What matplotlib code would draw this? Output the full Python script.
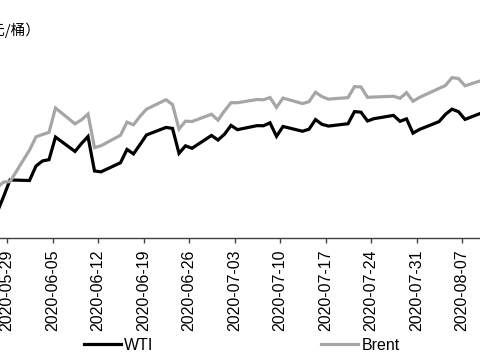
import matplotlib
matplotlib.use("Agg")
import matplotlib.pyplot as plt
import matplotlib.dates as mdates
import numpy as np
import pandas as pd

dates = ["2020-05-27", "2020-05-28", "2020-05-29",
         "2020-06-01", "2020-06-02", "2020-06-03", "2020-06-04", "2020-06-05",
         "2020-06-08", "2020-06-09", "2020-06-10", "2020-06-11", "2020-06-12",
         "2020-06-15", "2020-06-16", "2020-06-17", "2020-06-18", "2020-06-19",
         "2020-06-22", "2020-06-23", "2020-06-24", "2020-06-25", "2020-06-26",
         "2020-06-29", "2020-06-30", "2020-07-01", "2020-07-02", "2020-07-03",
         "2020-07-06", "2020-07-07", "2020-07-08", "2020-07-09", "2020-07-10",
         "2020-07-13", "2020-07-14", "2020-07-15", "2020-07-16", "2020-07-17",
         "2020-07-20", "2020-07-21", "2020-07-22", "2020-07-23", "2020-07-24",
         "2020-07-27", "2020-07-28", "2020-07-29", "2020-07-30", "2020-07-31",
         "2020-08-03", "2020-08-04", "2020-08-05", "2020-08-06", "2020-08-07",
         "2020-08-10"]

wti = [32.40, 33.90, 35.49,
       35.44, 36.81, 37.29, 37.41, 39.55,
       38.19, 38.94, 39.60, 36.34, 36.26,
       37.12, 38.38, 37.96, 38.84, 39.75,
       40.46, 40.37, 38.01, 38.72, 38.49,
       39.70, 39.27, 39.82, 40.65, 40.25,
       40.63, 40.62, 40.90, 39.62, 40.55,
       40.10, 40.29, 41.20, 40.75, 40.59,
       40.81, 41.96, 41.90, 41.07, 41.29,
       41.60, 41.04, 41.27, 39.92, 40.27,
       41.01, 41.70, 42.19, 41.95, 41.22,
       41.94]

brent = [34.74, 35.29, 35.33,
         38.32, 39.57, 39.79, 39.99, 42.30,
         40.80, 41.18, 41.73, 38.55, 38.73,
         39.72, 40.96, 40.71, 41.51, 42.19,
         43.08, 42.63, 40.31, 41.05, 41.02,
         41.71, 41.15, 42.03, 42.80, 42.80,
         43.10, 43.08, 43.29, 42.35, 43.24,
         42.72, 42.90, 43.79, 43.37, 43.14,
         43.28, 44.32, 44.29, 43.31, 43.34,
         43.41, 43.22, 43.75, 42.94, 43.30,
         44.15, 44.43, 45.17, 45.09, 44.40,
         44.99]

tick_labels = ["2020-05-29", "2020-06-05", "2020-06-12", "2020-06-19",
               "2020-06-26", "2020-07-03", "2020-07-10", "2020-07-17",
               "2020-07-24", "2020-07-31", "2020-08-07"]

series_names = ["WTI", "Brent"]
unit_label = "（美元/桶）"

W, H = 480, 360
fig = plt.figure(figsize=(W / 100, H / 100), dpi=100)

ax_bottom_px = 238.0
ax_top_px = 26.6
ax = fig.add_axes([0.0, 1 - ax_bottom_px / H, 1.0, (ax_bottom_px - ax_top_px) / H])

x = pd.to_datetime(dates)
ax.plot(x, wti, color="black", lw=2.3, label=series_names[0], solid_joinstyle="miter")
ax.plot(x, brent, color="#A6A6A6", lw=2.3, label=series_names[1], solid_joinstyle="miter")

# x-range: first full date at pixel 10, 6.5 px per day
ref = mdates.date2num(pd.Timestamp("2020-05-29"))
px_per_day = 6.5
ax.set_xlim(ref - 10 / px_per_day, ref + (W - 10) / px_per_day)
ax.set_ylim(30, 50)

tick_pos = [mdates.date2num(pd.Timestamp(t)) - 0.46 for t in tick_labels]
ax.set_xticks(tick_pos)
ax.set_xticklabels(tick_labels, rotation=90, fontsize=11.5,
                   family=["Liberation Sans", "DejaVu Sans"])
ax.tick_params(axis="x", direction="out", length=3.5, width=1, color="#404040", pad=5)
ax.set_yticks([])

for s in ["top", "right", "left"]:
    ax.spines[s].set_visible(False)
ax.spines["bottom"].set_color("#404040")
ax.spines["bottom"].set_linewidth(1)

fig.text(41 / W, 1 - 30 / H, unit_label, ha="right", va="center", fontsize=10.5,
         family=["Noto Sans CJK SC", "DejaVu Sans"])

leg = fig.legend(loc="center", bbox_to_anchor=(242 / W, 1 - 345 / H), ncol=2,
                 frameon=False, prop={"family": "Liberation Sans", "size": 11.5},
                 handlelength=2.3, handletextpad=0.2, columnspacing=10.5,
                 borderaxespad=0)

fig.savefig("out.png", dpi=100)
